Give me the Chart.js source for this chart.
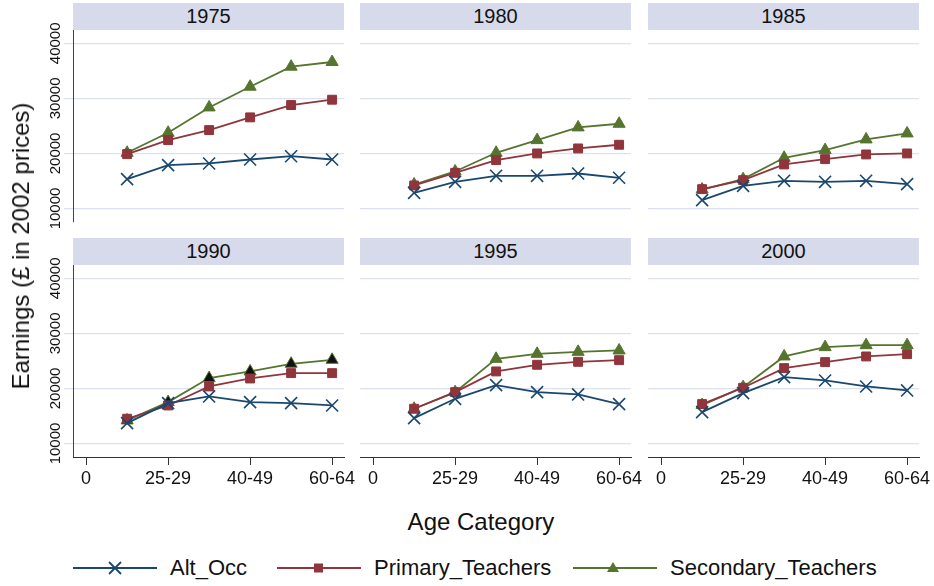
<!DOCTYPE html>
<html>
<head>
<meta charset="utf-8">
<script src="https://cdn.jsdelivr.net/npm/chart.js@4/dist/chart.umd.min.js"></script>
<style>
  html, body { margin: 0; padding: 0; background: #ffffff; }
  #wrap { position: relative; width: 934px; height: 586px; overflow: hidden; font-family: "Liberation Sans", Arial, sans-serif; color: #111; }
  .strip { position: absolute; background: #d6daea; font-size: 20px; line-height: 27px; text-align: center; color: #111; }
  .panel { position: absolute; }
  .ytitle { position: absolute; left: 21px; top: 246px; transform: translate(-50%, -50%) rotate(-90deg); white-space: nowrap; font-size: 24px; }
  .xtitle { position: absolute; left: 481px; top: 522px; transform: translate(-50%, -50%); white-space: nowrap; font-size: 24px; }
  .leg { position: absolute; top: 556px; height: 24px; display: flex; align-items: center; font-size: 22px; white-space: nowrap; }
  .leg svg { margin-right: 13px; }
</style>
</head>
<body>
<div id="wrap"></div>
<script>
// ---- data ----
const years = ['1975', '1980', '1985', '1990', '1995', '2000'];
const ageX = [1, 2, 3, 4, 5, 6];
const xTickPos = [0, 2, 4, 6];
const xTickLabels = ['0', '25-29', '40-49', '60-64'];
const yTicks = [10000, 20000, 30000, 40000];
const seriesNames = ['Alt_Occ', 'Primary_Teachers', 'Secondary_Teachers'];

const altOcc = [
  [15330, 17880, 18180, 18900, 19500, 18900],
  [12850, 14850, 15940, 15940, 16360, 15580],
  [11520, 14120, 15030, 14850, 15030, 14420],
  [13710, 17340, 18550, 17520, 17340, 16910],
  [14620, 18120, 20600, 19330, 18910, 17160],
  [15700, 19150, 22060, 21450, 20360, 19640]
];
const primaryTeachers = [
  [19880, 22420, 24240, 26550, 28790, 29760],
  [14180, 16480, 18790, 20000, 20910, 21580],
  [13520, 15150, 18000, 18970, 19820, 20000],
  [14500, 16910, 20360, 21810, 22780, 22780],
  [16310, 19330, 23090, 24300, 24840, 25140],
  [17160, 20120, 23690, 24780, 25810, 26230]
];
const secondaryTeachers = [
  [20120, 23760, 28360, 32120, 35760, 36610],
  [14360, 16730, 20120, 22420, 24730, 25390],
  [13450, 15330, 19210, 20610, 22550, 23640],
  [14190, 17520, 21880, 23090, 24480, 25200],
  [16310, 19330, 25380, 26290, 26650, 26900],
  [16980, 20240, 25810, 27500, 27860, 27860]
];

// ---- styles ----
const colors = ['#1a476f', '#90353b', '#55752f'];
const pointStyles = ['crossRot', 'rect', 'triangle'];
const pointRadii = [8.5, 6.3, 7];
const FONT = '"Liberation Sans", Arial, sans-serif';

// ---- layout ----
const colLeft = [73, 360, 648];
const rowTop = [30, 265];
const plotW = 271, plotH = 192;
const padL = 40, padR = 30, padT = 12, padB = 30;
const Y_MIN = 7550, Y_MAX = 42420, X_MIN = -0.32, X_MAX = 6.29;

const wrap = document.getElementById('wrap');

function el(tag, cls, css, text) {
  const e = document.createElement(tag);
  if (cls) e.className = cls;
  Object.assign(e.style, css || {});
  if (text != null) e.textContent = text;
  wrap.appendChild(e);
  return e;
}

years.forEach((yr, i) => {
  const col = i % 3, row = Math.floor(i / 3);
  const left = colLeft[col], top = rowTop[row];
  el('div', 'strip', { left: left + 'px', top: (top - 27) + 'px', width: plotW + 'px', height: '27px' }, yr);

  const box = el('div', 'panel', { left: (left - padL) + 'px', top: (top - padT) + 'px' });
  const cv = document.createElement('canvas');
  cv.width = plotW + padL + padR;
  cv.height = plotH + padT + padB;
  box.appendChild(cv);

  const firstCol = col === 0, bottomRow = row === 1;
  const seriesData = [altOcc[i], primaryTeachers[i], secondaryTeachers[i]];

  const datasets = seriesData.map((vals, s) => ({
    label: seriesNames[s],
    data: ageX.map((x, k) => ({ x: x, y: vals[k] })),
    borderColor: colors[s],
    backgroundColor: colors[s],
    pointBackgroundColor: (s === 2 && yr === '1990') ? '#111111' : colors[s],
    pointBorderColor: colors[s],
    pointStyle: pointStyles[s],
    pointRadius: pointRadii[s],
    pointBorderWidth: s === 0 ? 1.6 : 1,
    borderWidth: 1.8,
    tension: 0,
    fill: false
  }));

  new Chart(cv, {
    type: 'line',
    data: { datasets: datasets },
    options: {
      responsive: false,
      animation: false,
      devicePixelRatio: 1,
      layout: { padding: { left: 0, right: padR, top: padT, bottom: 0 } },
      plugins: { legend: { display: false }, tooltip: { enabled: false }, title: { display: false } },
      scales: {
        x: {
          type: 'linear',
          min: X_MIN, max: X_MAX,
          afterBuildTicks: (sc) => { sc.ticks = xTickPos.map(v => ({ value: v })); },
          afterFit: (sc) => { sc.height = padB; },
          grid: { display: true, drawOnChartArea: false, drawTicks: bottomRow, tickLength: 8, color: '#333', lineWidth: 1 },
          border: { display: bottomRow, color: '#333', width: 1 },
          ticks: {
            display: bottomRow,
            autoSkip: false, maxRotation: 0, minRotation: 0,
            padding: 3,
            color: '#111',
            font: { family: FONT, size: 18 },
            callback: (v) => { const k = xTickPos.indexOf(v); return k >= 0 ? xTickLabels[k] : ''; }
          }
        },
        y: {
          type: 'linear',
          min: Y_MIN, max: Y_MAX,
          afterBuildTicks: (sc) => { sc.ticks = yTicks.map(v => ({ value: v })); },
          afterFit: (sc) => { sc.width = padL; },
          grid: { display: true, drawOnChartArea: true, drawTicks: firstCol, tickLength: 9, color: '#dde1ee', lineWidth: 1.2 },
          border: { display: firstCol, color: '#444', width: 1 },
          ticks: {
            display: firstCol,
            minRotation: 90, maxRotation: 90,
            crossAlign: 'center',
            padding: -13,
            color: '#111',
            font: { family: FONT, size: 15 },
            callback: (v) => String(v)
          }
        }
      }
    }
  });
});

// axis titles
el('div', 'ytitle', {}, 'Earnings (£ in 2002 prices)');
el('div', 'xtitle', {}, 'Age Category');

// legend
const legLeft = [73, 277, 573];
seriesNames.forEach((name, s) => {
  const item = el('div', 'leg', { left: legLeft[s] + 'px' });
  const ns = 'http://www.w3.org/2000/svg';
  const svg = document.createElementNS(ns, 'svg');
  svg.setAttribute('width', '84'); svg.setAttribute('height', '24');
  const line = document.createElementNS(ns, 'line');
  line.setAttribute('x1', '0'); line.setAttribute('x2', '84');
  line.setAttribute('y1', '12'); line.setAttribute('y2', '12');
  line.setAttribute('stroke', colors[s]); line.setAttribute('stroke-width', '2');
  svg.appendChild(line);
  let m;
  if (s === 0) {
    m = document.createElementNS(ns, 'path');
    m.setAttribute('d', 'M36 6 L48 18 M48 6 L36 18');
    m.setAttribute('stroke', colors[s]); m.setAttribute('stroke-width', '1.8'); m.setAttribute('fill', 'none');
  } else if (s === 1) {
    m = document.createElementNS(ns, 'rect');
    m.setAttribute('x', '37'); m.setAttribute('y', '7.5'); m.setAttribute('width', '9'); m.setAttribute('height', '9');
    m.setAttribute('fill', colors[s]);
  } else {
    m = document.createElementNS(ns, 'path');
    m.setAttribute('d', 'M34 16 L46 16 L40 6 Z');
    m.setAttribute('fill', colors[s]);
  }
  svg.appendChild(m);
  item.appendChild(svg);
  const t = document.createElement('span');
  t.textContent = name;
  item.appendChild(t);
});
</script>
</body>
</html>
